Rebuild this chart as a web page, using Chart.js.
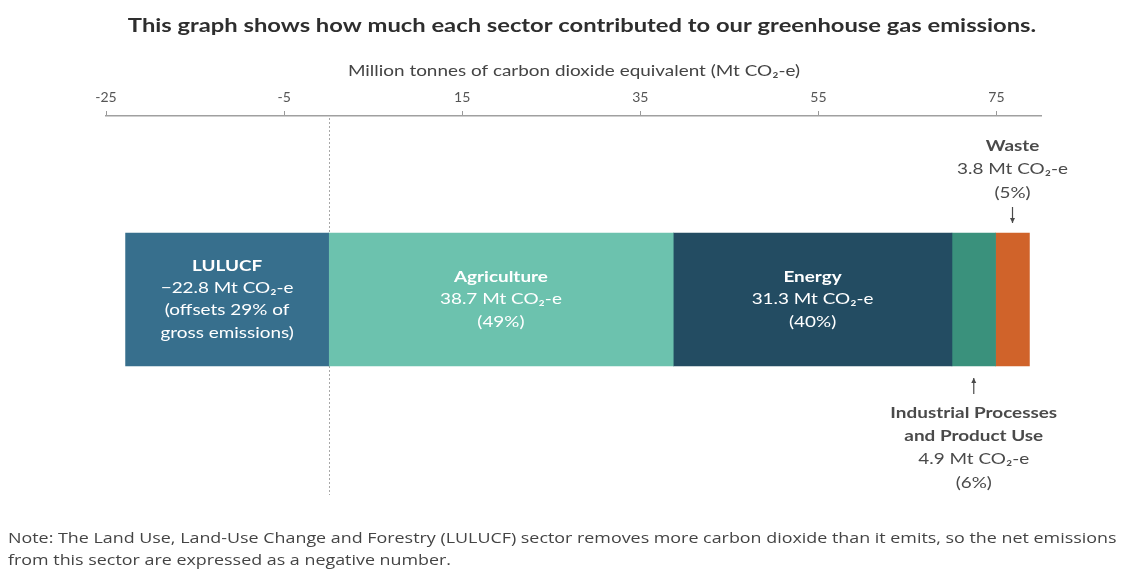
<!DOCTYPE html>
<html>
<head>
<meta charset="utf-8">
<script src="https://cdn.jsdelivr.net/npm/chart.js@4.4.1/dist/chart.umd.min.js"></script>
<style>
  html, body { margin: 0; padding: 0; background: #fff; }
  #wrap { position: relative; width: 1123px; height: 572px; }
</style>
</head>
<body>
<div id="wrap"><canvas id="chart" width="1123" height="572"></canvas></div>
<script>
// Sector emissions (Mt CO2-e)
const sectors = ['LULUCF', 'Agriculture', 'Energy', 'Industrial Processes and Product Use', 'Waste'];
const emissions = [-22.8, 38.7, 31.3, 4.9, 3.8];
const shareLabels = ['(offsets 29% of gross emissions)', '(49%)', '(40%)', '(6%)', '(5%)'];
const sectorColours = ['#376f8d', '#6cc2ae', '#234c62', '#3a917c', '#d0632a'];
const tickValues = [-25, -5, 15, 35, 55, 75];
const axisMin = -25;
const axisMax = 80;

const chartTitle = 'This graph shows how much each sector contributed to our greenhouse gas emissions.';
const axisTitle = 'Million tonnes of carbon dioxide equivalent (Mt CO₂-e)';
const noteLines = [
  'Note: The Land Use, Land-Use Change and Forestry (LULUCF) sector removes more carbon dioxide than it emits, so the net emissions',
  'from this sector are expressed as a negative number.'
];

const FONT = 'Lato, "Open Sans", sans-serif';
const WIDE = 1.26; // horizontal stretch applied to the text

function valueText(v) {
  const s = Math.abs(v).toFixed(1);
  return (v < 0 ? '\u2212' : '') + s + ' Mt CO₂-e';
}

// Text lines for each sector label: [text, bold]
function sectorLines(i) {
  const name = sectors[i];
  if (i === 0) {
    return [[name, true], [valueText(emissions[i]), false], ['(offsets 29% of', false], ['gross emissions)', false]];
  }
  if (i === 3) {
    return [['Industrial Processes', true], ['and Product Use', true], [valueText(emissions[i]), false], [shareLabels[i], false]];
  }
  return [[name, true], [valueText(emissions[i]), false], [shareLabels[i], false]];
}

function wideText(ctx, text, x, y, sx) {
  ctx.save();
  ctx.translate(x, y);
  ctx.scale(sx, 1);
  ctx.fillText(text, 0, 0);
  ctx.restore();
}

function drawLines(ctx, lines, cx, firstY, lineH, colour, size) {
  ctx.fillStyle = colour;
  ctx.textAlign = 'center';
  ctx.textBaseline = 'middle';
  lines.forEach(([t, bold], k) => {
    ctx.font = (bold ? 'bold ' : '') + size + 'px ' + FONT;
    wideText(ctx, t, cx, firstY + k * lineH, WIDE);
  });
}

function arrow(ctx, x, y1, y2, colour) {
  // line from y1 to y2 with head at y2
  ctx.strokeStyle = colour;
  ctx.fillStyle = colour;
  ctx.lineWidth = 1.2;
  ctx.beginPath();
  ctx.moveTo(x, y1);
  ctx.lineTo(x, y2);
  ctx.stroke();
  const dir = y2 > y1 ? 1 : -1;
  ctx.beginPath();
  ctx.moveTo(x - 2.5, y2 - dir * 5);
  ctx.lineTo(x + 2.5, y2 - dir * 5);
  ctx.lineTo(x, y2);
  ctx.closePath();
  ctx.fill();
}

const annotations = {
  id: 'annotations',
  beforeDatasetsDraw(chart) {
    const ctx = chart.ctx;
    const xs = chart.scales.x;
    const zx = Math.round(xs.getPixelForValue(0)) + 0.5;
    ctx.save();
    ctx.strokeStyle = '#a8a8a8';
    ctx.lineWidth = 1;
    ctx.setLineDash([2, 2]);
    ctx.beginPath();
    ctx.moveTo(zx, chart.chartArea.top + 2);
    ctx.lineTo(zx, 495);
    ctx.stroke();
    ctx.restore();
  },
  afterDatasetsDraw(chart) {
    const ctx = chart.ctx;
    ctx.save();

    // titles
    ctx.fillStyle = '#2e2e2e';
    ctx.textAlign = 'center';
    ctx.textBaseline = 'middle';
    ctx.font = 'bold 19px ' + FONT;
    wideText(ctx, chartTitle, 582, 26, 1.25);
    ctx.font = '15px ' + FONT;
    ctx.fillStyle = '#444';
    wideText(ctx, axisTitle, 574, 71, WIDE);

    // labels inside bars
    [0, 1, 2].forEach(i => {
      const el = chart.getDatasetMeta(i).data[0];
      const cx = (el.x + el.base) / 2;
      const lines = sectorLines(i);
      const lh = 22.3;
      const first = el.y - (lines.length - 1) * lh / 2;
      drawLines(ctx, lines, cx, first, lh, '#ffffff', 15);
    });

    // Waste callout above the bar
    const w = chart.getDatasetMeta(4).data[0];
    const wx = (w.x + w.base) / 2;
    drawLines(ctx, sectorLines(4), wx, 146, 23.5, '#4a4a4a', 15);
    arrow(ctx, wx, 207, 223, '#4a4a4a');

    // IPPU callout below the bar
    const p = chart.getDatasetMeta(3).data[0];
    const px = (p.x + p.base) / 2;
    arrow(ctx, px, 394, 378, '#4a4a4a');
    drawLines(ctx, sectorLines(3), px, 413, 23.3, '#4a4a4a', 15);

    // note
    ctx.textAlign = 'left';
    ctx.textBaseline = 'middle';
    ctx.fillStyle = '#444';
    ctx.font = '14px "Open Sans", sans-serif';
    wideText(ctx, noteLines[0], 8, 539, 1.277);
    wideText(ctx, noteLines[1], 8, 561, 1.277);
    ctx.restore();
  }
};

new Chart(document.getElementById('chart'), {
  type: 'bar',
  data: {
    labels: ['Emissions'],
    datasets: sectors.map((s, i) => ({
      label: s,
      data: [emissions[i]],
      backgroundColor: sectorColours[i],
      borderWidth: 0,
      barThickness: 133
    }))
  },
  options: {
    indexAxis: 'y',
    responsive: false,
    animation: false,
    layout: { padding: { left: 106, right: 82, top: 0, bottom: 89 } },
    plugins: {
      legend: { display: false },
      tooltip: { enabled: false },
      title: { display: false }
    },
    scales: {
      x: {
        position: 'top',
        stacked: true,
        min: axisMin,
        max: axisMax,
        afterBuildTicks(axis) {
          axis.ticks = tickValues.map(v => ({ value: v }));
        },
        afterFit(axis) { axis.height = 116; },
        ticks: {
          color: '#555',
          font: { family: FONT, size: 14 },
          padding: 5,
          maxRotation: 0,
          autoSkip: false
        },
        grid: { drawOnChartArea: false, drawTicks: true, tickLength: 5, color: '#999' },
        border: { color: '#a0a0a0', width: 1.5 }
      },
      y: {
        stacked: true,
        display: false
      }
    }
  },
  plugins: [annotations]
});
</script>
</body>
</html>
